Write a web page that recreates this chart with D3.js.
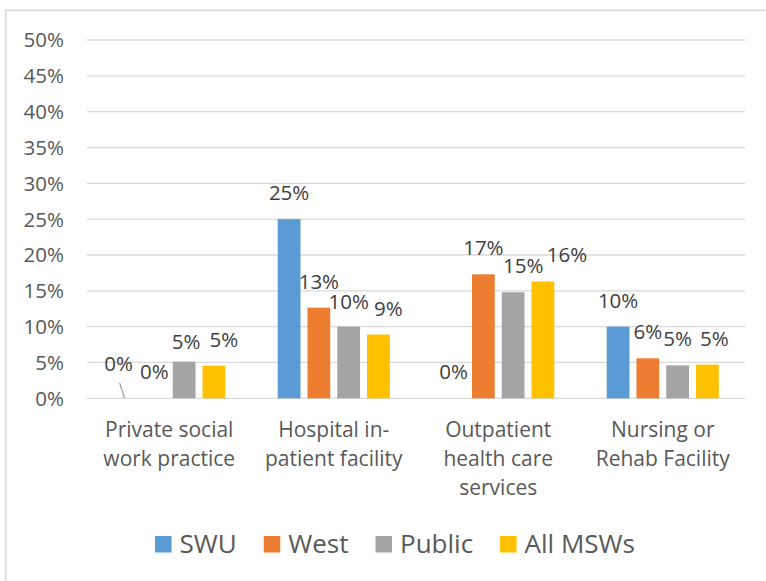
<!DOCTYPE html>
<html lang="en">
<head>
    <meta charset="UTF-8">
    <title>Practice setting by group</title>
    <script src="https://d3js.org/d3.v7.min.js"></script>
    <style>
        html, body { margin: 0; padding: 0; background: #fff; }
        svg { display: block; font-family: 'Open Sans', sans-serif; }
        .grid line { stroke: #d9d9d9; stroke-width: 1.3; }
        .tick-label { fill: #595959; font-size: 20.5px; }
        .cat-label { fill: #595959; font-size: 21px; }
        .data-label { fill: #404040; font-size: 20.5px; }
        .legend-label { fill: #595959; font-size: 26px; }
    </style>
</head>
<body>
<div id="chart"></div>
<script>
    // --- Data ---
    const categories = ["Private social work practice", "Hospital in-patient facility", "Outpatient health care services", "Nursing or Rehab Facility"];
    const categoryLines = [["Private social", "work practice"], ["Hospital in-", "patient facility"], ["Outpatient", "health care", "services"], ["Nursing or", "Rehab Facility"]];
    const seriesNames = ["SWU", "West", "Public", "All MSWs"];
    const swuValues = [0, 0.25, 0, 0.10];
    const westValues = [0, 0.1265, 0.173, 0.0558];
    const publicValues = [0.051, 0.100, 0.148, 0.046];
    const allValues = [0.0455, 0.089, 0.163, 0.047];
    const yTicks = [0, 0.05, 0.10, 0.15, 0.20, 0.25, 0.30, 0.35, 0.40, 0.45, 0.50];

    // labels that were dragged off their default spot in the original
    const labelDx = [[-6, 0, 0, 0], [0, 0, 0, 0], [2, 0, 10, 0], [10, 10, 24, 7]];
    const labelDy = [[-8, 0, 0, 0], [0, 0, 0, 0], [6, 1, 0, 0], [0, 0, 0, 0]];

    const colors = ["#5b9bd5", "#ed7d31", "#a5a5a5", "#ffc000"];
    const seriesValues = [swuValues, westValues, publicValues, allValues];

    const width = 766, height = 581;
    const plot = { left: 87, right: 745, top: 40, bottom: 398.3 };

    const svg = d3.select("#chart").append("svg")
        .attr("width", width)
        .attr("height", height);

    // chart frame (cropped on the right and bottom)
    svg.append("path")
        .attr("d", `M5.8,${height + 2}V10.3H${width + 2}`)
        .attr("fill", "none")
        .attr("stroke", "#d9d9d9")
        .attr("stroke-width", 1.5);

    // --- Scales ---
    const y = d3.scaleLinear().domain([0, 0.5]).range([plot.bottom, plot.top]);
    const x0 = d3.scaleBand().domain(categories).range([plot.left, plot.right]);
    const x1 = d3.scaleBand().domain(seriesNames)
        .range([0, x0.bandwidth()])
        .paddingInner(0.235)
        .paddingOuter(0.88);

    // --- Gridlines ---
    svg.append("g").attr("class", "grid")
        .selectAll("line")
        .data(yTicks)
        .join("line")
        .attr("x1", plot.left)
        .attr("x2", plot.right)
        .attr("y1", d => y(d))
        .attr("y2", d => y(d));

    // --- Y axis labels ---
    svg.append("g")
        .selectAll("text")
        .data(yTicks)
        .join("text")
        .attr("class", "tick-label")
        .attr("x", 64)
        .attr("y", d => y(d))
        .attr("dy", "0.36em")
        .attr("text-anchor", "end")
        .text(d3.format(".0%"));

    // --- Category labels ---
    const catG = svg.append("g")
        .selectAll("text")
        .data(categories)
        .join("text")
        .attr("class", "cat-label")
        .attr("text-anchor", "middle")
        .attr("x", d => x0(d) + x0.bandwidth() / 2)
        .attr("y", 437);
    catG.selectAll("tspan")
        .data((d, i) => categoryLines[i])
        .join("tspan")
        .attr("x", function() { return this.parentNode.getAttribute("x"); })
        .attr("dy", (d, i) => i === 0 ? 0 : 29)
        .text(d => d);

    // --- Bars ---
    const flat = [];
    seriesNames.forEach((s, si) => {
        categories.forEach((c, ci) => {
            flat.push({ series: s, si, category: c, ci, value: seriesValues[si][ci] });
        });
    });

    svg.append("g")
        .selectAll("rect")
        .data(flat.filter(d => d.value > 0))
        .join("rect")
        .attr("x", d => x0(d.category) + x1(d.series))
        .attr("width", x1.bandwidth())
        .attr("y", d => y(d.value))
        .attr("height", d => y(0) - y(d.value))
        .attr("fill", d => colors[d.si]);

    // --- Data labels ---
    const labelX = d => x0(d.category) + x1(d.series) + x1.bandwidth() / 2 + labelDx[d.si][d.ci];
    const labelY = d => y(d.value) - 19 + labelDy[d.si][d.ci];

    svg.append("g")
        .selectAll("text")
        .data(flat)
        .join("text")
        .attr("class", "data-label")
        .attr("text-anchor", "middle")
        .attr("x", labelX)
        .attr("y", labelY)
        .text(d => d3.format(".0%")(d.value));

    // leader line for the moved first label
    const moved = flat.find(d => d.si === 0 && d.ci === 0);
    svg.append("line")
        .attr("x1", labelX(moved) + 1)
        .attr("y1", labelY(moved) + 11.5)
        .attr("x2", x0(moved.category) + x1(moved.series) + x1.bandwidth() / 2)
        .attr("y2", y(0))
        .attr("stroke", "#a6a6a6")
        .attr("stroke-width", 1.3);

    // --- Legend ---
    const legend = svg.append("g");
    const swatch = 16.5, textGap = 8, itemGap = 27;
    let cursor = 0;
    seriesNames.forEach((s, i) => {
        const g = legend.append("g").attr("transform", `translate(${cursor},0)`);
        g.append("rect")
            .attr("x", 0)
            .attr("y", 536)
            .attr("width", swatch)
            .attr("height", swatch)
            .attr("fill", colors[i]);
        const t = g.append("text")
            .attr("class", "legend-label")
            .attr("x", swatch + textGap)
            .attr("y", 552.7)
            .text(s);
        cursor += swatch + textGap + t.node().getComputedTextLength() + itemGap;
    });
    const legendWidth = cursor - itemGap;
    legend.attr("transform", `translate(${395 - legendWidth / 2},0)`);
</script>
</body>
</html>
